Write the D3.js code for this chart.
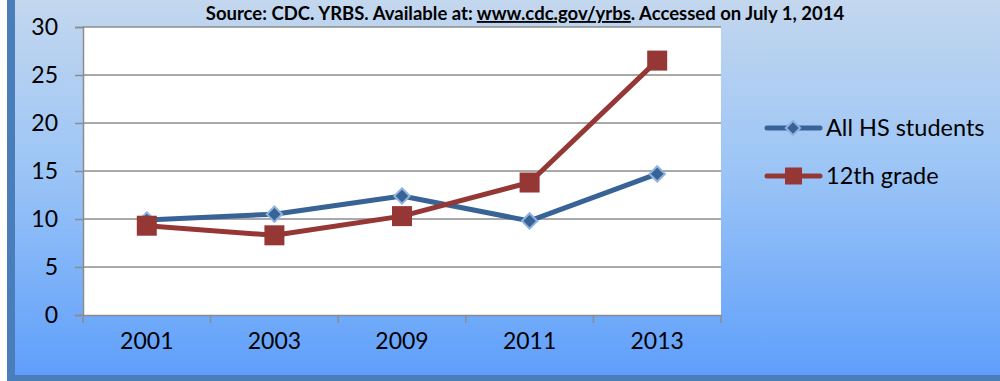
<!DOCTYPE html>
<html>
<head>
<meta charset="utf-8">
<script src="https://cdn.jsdelivr.net/npm/d3@7"></script>
<style>
  html, body { margin: 0; padding: 0; background: #fff; }
  svg { display: block; }
  text { font-family: Lato, "Open Sans", "Liberation Sans", sans-serif; fill: #000; }
</style>
</head>
<body>
<svg id="chart" width="1000" height="381"></svg>
<script>
// Survey years and percentages for each group
const years = ["2001", "2003", "2009", "2011", "2013"];
const allStudents = [9.9, 10.5, 12.4, 9.8, 14.7];
const twelfthGrade = [9.3, 8.3, 10.3, 13.8, 26.5];
const seriesNames = ["All HS students", "12th grade"];
const yTicks = [0, 5, 10, 15, 20, 25, 30];
const sourceNote = "Source: CDC. YRBS. Available at: ";
const sourceLink = "www.cdc.gov/yrbs";
const sourceTail = ". Accessed on July 1, 2014";

const svg = d3.select("#chart");
const W = 1000, H = 381;

// Background: gradient panel with a dark frame on the left and bottom
const defs = svg.append("defs");
const grad = defs.append("linearGradient")
  .attr("id", "bg").attr("x1", 0).attr("y1", 0).attr("x2", 0).attr("y2", 1);
grad.append("stop").attr("offset", "0%").attr("stop-color", "#c3d7ee");
grad.append("stop").attr("offset", "45%").attr("stop-color", "#9cc5f6");
grad.append("stop").attr("offset", "100%").attr("stop-color", "#5f9ffb");

svg.append("rect").attr("x", 7).attr("y", 0).attr("width", W - 7).attr("height", H).attr("fill", "#4a7ebb");
svg.append("rect").attr("x", 15).attr("y", 0).attr("width", W - 15).attr("height", 375).attr("fill", "url(#bg)");

// Plot area
const plot = { left: 83, right: 721, top: 27, bottom: 315 };
svg.append("rect")
  .attr("x", plot.left).attr("y", plot.top)
  .attr("width", plot.right - plot.left).attr("height", plot.bottom - plot.top)
  .attr("fill", "#fff");

const x = d3.scaleBand().domain(years).range([plot.left, plot.right]).padding(0);
const y = d3.scaleLinear().domain([0, 30]).range([plot.bottom, plot.top]);

// Horizontal gridlines
svg.append("g").selectAll("line").data(yTicks.filter(d => d > 0)).join("line")
  .attr("x1", plot.left).attr("x2", plot.right)
  .attr("y1", d => y(d)).attr("y2", d => y(d))
  .attr("stroke", "#8c8c8c").attr("stroke-width", 1.5);

// Y axis
const yAxis = svg.append("g").attr("transform", `translate(${plot.left},0)`)
  .call(d3.axisLeft(y).tickValues(yTicks).tickSize(8).tickPadding(17));
yAxis.select(".domain").attr("stroke", "#8c8c8c").attr("stroke-width", 1.5);
yAxis.selectAll(".tick line").attr("stroke", "#8c8c8c").attr("stroke-width", 1.5);
yAxis.selectAll(".tick text").attr("font-size", 23).attr("font-family", null);

// X axis with ticks on category boundaries
const xAxis = svg.append("g").attr("transform", `translate(0,${plot.bottom})`)
  .call(d3.axisBottom(x).tickSize(0).tickPadding(18));
xAxis.select(".domain").attr("stroke", "#8c8c8c").attr("stroke-width", 1.5);
xAxis.selectAll(".tick text").attr("font-size", 23).attr("font-family", null);
const bounds = years.map(d => x(d)).concat([x(years[years.length - 1]) + x.bandwidth()]);
xAxis.append("g").selectAll("line").data(bounds).join("line")
  .attr("x1", d => d).attr("x2", d => d).attr("y1", 0).attr("y2", 8)
  .attr("stroke", "#8c8c8c").attr("stroke-width", 1.5);

const cx = d => x(d) + x.bandwidth() / 2;
const line = d3.line().x(d => cx(d.year)).y(d => y(d.value));

const blueData = years.map((yr, i) => ({ year: yr, value: allStudents[i] }));
const redData = years.map((yr, i) => ({ year: yr, value: twelfthGrade[i] }));

const blue = "#386397", blueEdge = "#8fb3de", red = "#953735";

// All HS students line with diamond markers
svg.append("path").datum(blueData).attr("d", line)
  .attr("fill", "none").attr("stroke", blue).attr("stroke-width", 5).attr("stroke-linejoin", "round");
const diamond = d3.symbol().type(d3.symbolDiamond2).size(150);
svg.append("g").selectAll("path").data(blueData).join("path")
  .attr("transform", d => `translate(${cx(d.year)},${y(d.value)})`)
  .attr("d", diamond)
  .attr("fill", blue).attr("stroke", blueEdge).attr("stroke-width", 2);

// 12th grade line with square markers
svg.append("path").datum(redData).attr("d", line)
  .attr("fill", "none").attr("stroke", red).attr("stroke-width", 5).attr("stroke-linejoin", "round");
svg.append("g").selectAll("rect").data(redData).join("rect")
  .attr("x", d => cx(d.year) - 10).attr("y", d => y(d.value) - 10)
  .attr("width", 20).attr("height", 20).attr("fill", red);

// Legend
const legend = svg.append("g");
const legendRows = [
  { name: seriesNames[0], color: blue, y: 128, marker: "diamond" },
  { name: seriesNames[1], color: red, y: 176, marker: "square" }
];
legendRows.forEach(r => {
  legend.append("line").attr("x1", 767).attr("x2", 820).attr("y1", r.y).attr("y2", r.y)
    .attr("stroke", r.color).attr("stroke-width", 5).attr("stroke-linecap", "round");
  if (r.marker === "diamond") {
    legend.append("path").attr("transform", `translate(793,${r.y})`)
      .attr("d", d3.symbol().type(d3.symbolDiamond2).size(130))
      .attr("fill", r.color).attr("stroke", blueEdge).attr("stroke-width", 2);
  } else {
    legend.append("rect").attr("x", 785).attr("y", r.y - 8.5).attr("width", 17).attr("height", 17)
      .attr("fill", r.color);
  }
  legend.append("text").attr("x", 826).attr("y", r.y).attr("dy", "0.35em")
    .attr("font-size", 23.5).text(r.name);
});

// Source note across the top
const title = svg.append("text").attr("x", 525).attr("y", 20)
  .attr("text-anchor", "middle").attr("font-size", 18.5).attr("font-weight", "bold");
title.append("tspan").text(sourceNote);
title.append("tspan").attr("text-decoration", "underline").text(sourceLink);
title.append("tspan").text(sourceTail);
</script>
</body>
</html>
